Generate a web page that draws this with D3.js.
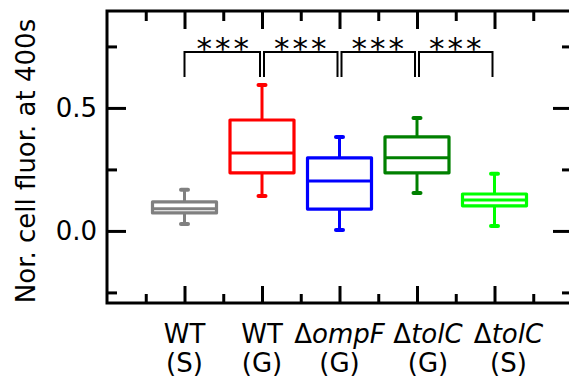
<!DOCTYPE html>
<html>
<head>
<meta charset="utf-8">
<script src="https://cdn.jsdelivr.net/npm/d3@7"></script>
<style>
  body { margin: 0; background: #fff; }
  svg { display: block; font-family: "DejaVu Sans", sans-serif; }
</style>
</head>
<body>
<svg class="chart"></svg>
<script>
// groups along the x axis
var strains = ["WT", "WT", "ompF", "tolC", "tolC"];
var mutant = [false, false, true, true, true];
var media = ["(S)", "(G)", "(G)", "(G)", "(S)"];

// box statistics
var whiskerLow = [0.028, 0.142, 0.004, 0.154, 0.020];
var q1 = [0.073, 0.236, 0.089, 0.236, 0.102];
var median = [0.090, 0.317, 0.203, 0.297, 0.126];
var q3 = [0.118, 0.451, 0.297, 0.382, 0.150];
var whiskerHigh = [0.167, 0.593, 0.382, 0.459, 0.232];

// significance between neighbours
var pairs = [[0, 1], [1, 2], [2, 3], [3, 4]];
var stars = ["***", "***", "***", "***"];

var yMajor = [0, 0.5];
var yMinor = [-0.25, 0.25, 0.75];
var xMajor = [1, 2, 3, 4, 5];
var xMinor = [0.5, 1.5, 2.5, 3.5, 4.5, 5.5];

var colors = ["#808080", "#ff0000", "#0000ff", "#008000", "#00ff00"];

var W = 569, H = 383;
var frame = { left: 107, right: 572, top: 11, bottom: 303 };

var x = d3.scaleLinear().domain([0, 6]).range([frame.left, frame.right]);
var y = d3.scaleLinear().domain([-0.293, 0.894]).range([frame.bottom, frame.top]);

var svg = d3.select(".chart")
  .attr("width", W)
  .attr("height", H);

// ticks (all pointing inward)
function ticks(axis, vals, size, transform) {
  var g = svg.append("g")
    .attr("transform", transform)
    .call(axis.tickValues(vals).tickSize(-size).tickFormat(""));
  g.select(".domain").remove();
  g.selectAll(".tick line").attr("stroke", "#000").attr("stroke-width", 3);
  return g;
}
ticks(d3.axisLeft(y), yMajor, 19, "translate(" + frame.left + ",0)");
ticks(d3.axisLeft(y), yMinor, 10, "translate(" + frame.left + ",0)");
ticks(d3.axisRight(y), yMajor, 19, "translate(" + frame.right + ",0)");
ticks(d3.axisRight(y), yMinor, 10, "translate(" + frame.right + ",0)");
ticks(d3.axisBottom(x), xMajor, 17, "translate(0," + frame.bottom + ")");
ticks(d3.axisBottom(x), xMinor, 9, "translate(0," + frame.bottom + ")");
ticks(d3.axisTop(x), xMajor, 18, "translate(0," + frame.top + ")");
ticks(d3.axisTop(x), xMinor, 10, "translate(0," + frame.top + ")");

svg.append("rect")
  .attr("x", frame.left).attr("y", frame.top)
  .attr("width", frame.right - frame.left).attr("height", frame.bottom - frame.top)
  .attr("fill", "none").attr("stroke", "#000").attr("stroke-width", 3);

// y tick labels
svg.selectAll(".ylab")
  .data(yMajor)
  .enter().append("text")
    .attr("class", "ylab")
    .attr("x", frame.left - 10)
    .attr("y", function(d) { return y(d); })
    .attr("dy", "0.36em")
    .attr("text-anchor", "end")
    .attr("font-size", 26)
    .text(function(d) { return d3.format(".1f")(d); });

svg.append("text")
  .attr("transform", "translate(35," + ((frame.top + frame.bottom) / 2 + 4) + ") rotate(-90)")
  .attr("text-anchor", "middle")
  .attr("font-size", 26)
  .text("Nor. cell fluor. at 400s");

// boxes
var boxW = 64, capW = 11;
var boxes = svg.selectAll(".box")
  .data(strains)
  .enter().append("g")
    .attr("class", "box")
    .attr("stroke", function(d, i) { return colors[i]; })
    .attr("fill", "none");

boxes.append("line")
  .attr("x1", function(d, i) { return x(i + 1); })
  .attr("x2", function(d, i) { return x(i + 1); })
  .attr("y1", function(d, i) { return y(whiskerHigh[i]); })
  .attr("y2", function(d, i) { return y(q3[i]); })
  .attr("stroke-width", 3);
boxes.append("line")
  .attr("x1", function(d, i) { return x(i + 1); })
  .attr("x2", function(d, i) { return x(i + 1); })
  .attr("y1", function(d, i) { return y(q1[i]); })
  .attr("y2", function(d, i) { return y(whiskerLow[i]); })
  .attr("stroke-width", 3);
[whiskerHigh, whiskerLow].forEach(function(arr) {
  boxes.append("line")
    .attr("x1", function(d, i) { return x(i + 1) - capW / 2 + 2; })
    .attr("x2", function(d, i) { return x(i + 1) + capW / 2 - 2; })
    .attr("y1", function(d, i) { return y(arr[i]); })
    .attr("y2", function(d, i) { return y(arr[i]); })
    .attr("stroke-width", 4)
    .attr("stroke-linecap", "round");
});
boxes.append("rect")
  .attr("x", function(d, i) { return x(i + 1) - boxW / 2; })
  .attr("width", boxW)
  .attr("y", function(d, i) { return y(q3[i]); })
  .attr("height", function(d, i) { return y(q1[i]) - y(q3[i]); })
  .attr("stroke-width", 3.2)
  .attr("stroke-linejoin", "round");
boxes.append("line")
  .attr("x1", function(d, i) { return x(i + 1) - boxW / 2; })
  .attr("x2", function(d, i) { return x(i + 1) + boxW / 2; })
  .attr("y1", function(d, i) { return y(median[i]); })
  .attr("y2", function(d, i) { return y(median[i]); })
  .attr("stroke-width", 3);

// significance brackets
var brTop = 52, brLeg = 77, inset = 2;
var br = svg.selectAll(".bracket")
  .data(pairs)
  .enter().append("g")
    .attr("class", "bracket");
br.append("path")
  .attr("d", function(d) {
    var a = x(d[0] + 1) + (d[0] > 0 ? inset : 0), b = x(d[1] + 1) - inset;
    return "M" + a + "," + brLeg + "V" + brTop + "H" + b + "V" + brLeg;
  })
  .attr("fill", "none")
  .attr("stroke", "#000")
  .attr("stroke-width", 2);
br.append("text")
  .attr("x", function(d) { return (x(d[0] + 1) + x(d[1] + 1)) / 2 + 1; })
  .attr("y", 59)
  .attr("text-anchor", "middle")
  .attr("font-size", 31)
  .attr("letter-spacing", 3)
  .text(function(d, i) { return stars[i]; });

// x labels, two lines; the last two columns sit a bit right of their ticks
var labelShift = [0, 0, 0, 11, 14];
var xl = svg.selectAll(".xlab")
  .data(strains)
  .enter().append("text")
    .attr("class", "xlab")
    .attr("text-anchor", "middle")
    .attr("font-size", 26);
xl.each(function(d, i) {
  var t = d3.select(this);
  var cx = x(i + 1) + labelShift[i];
  var l1 = t.append("tspan").attr("x", cx).attr("y", 343);
  if (mutant[i]) {
    l1.append("tspan").text("\u0394");
    l1.append("tspan").attr("font-style", "italic").text(d);
  } else {
    l1.text(d);
  }
  t.append("tspan").attr("x", cx).attr("y", 372).text(media[i]);
});
</script>
</body>
</html>
